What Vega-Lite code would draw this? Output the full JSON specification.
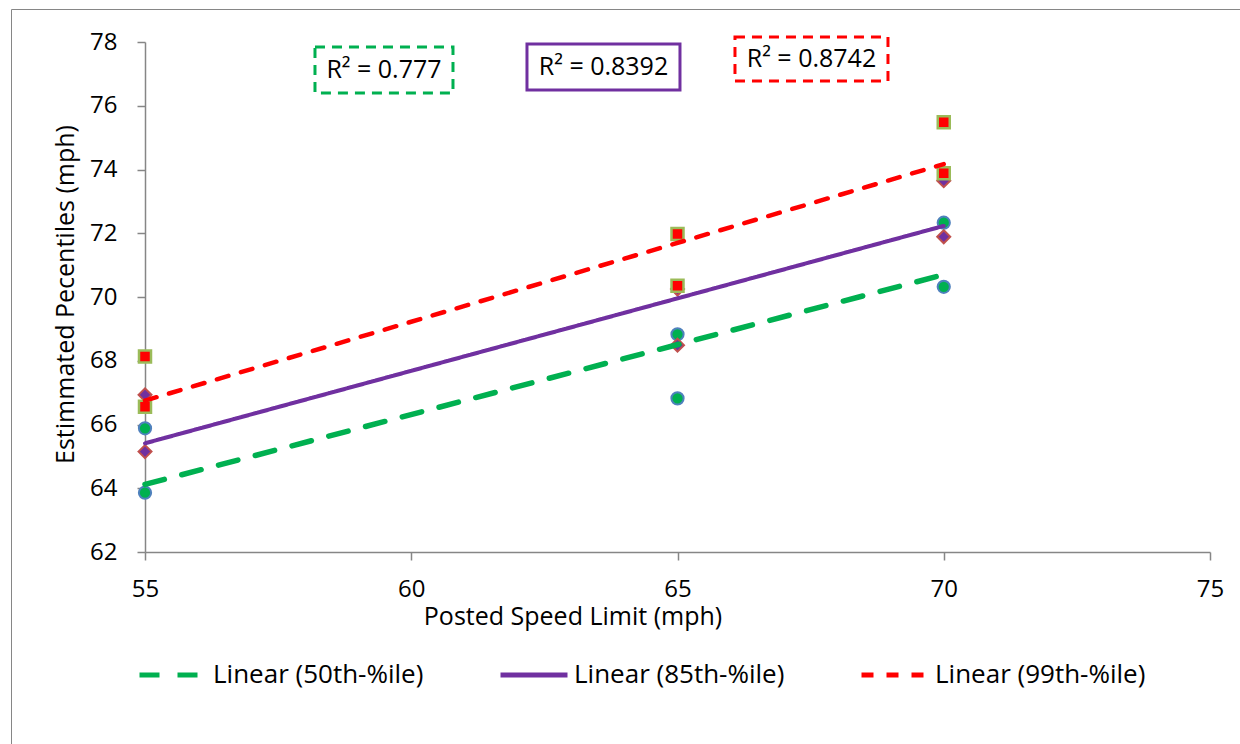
{
  "$schema": "https://vega.github.io/schema/vega-lite/v6.json",
  "width": 1229,
  "height": 735,
  "autosize": {"type": "none"},
  "padding": {"left": 11, "top": 9, "right": 0, "bottom": 0},
  "background": "white",
  "config": {
    "view": {"stroke": "#868686", "strokeWidth": 1},
    "font": "Open Sans"
  },
  "datasets": {
    "points": [
      {"s": "50th", "x": 55, "y": 65.88}, {"s": "50th", "x": 55, "y": 63.86},
      {"s": "50th", "x": 65, "y": 68.83}, {"s": "50th", "x": 65, "y": 66.82},
      {"s": "50th", "x": 70, "y": 72.33}, {"s": "50th", "x": 70, "y": 70.32},
      {"s": "85th", "x": 55, "y": 66.93}, {"s": "85th", "x": 55, "y": 65.15},
      {"s": "85th", "x": 65, "y": 70.25}, {"s": "85th", "x": 65, "y": 68.49},
      {"s": "85th", "x": 70, "y": 73.65}, {"s": "85th", "x": 70, "y": 71.89},
      {"s": "99th", "x": 55, "y": 68.13}, {"s": "99th", "x": 55, "y": 66.56},
      {"s": "99th", "x": 65, "y": 71.98}, {"s": "99th", "x": 65, "y": 70.35},
      {"s": "99th", "x": 70, "y": 75.48}, {"s": "99th", "x": 70, "y": 73.88}
    ],
    "trends": [
      {"series": "Linear (50th-%ile)", "x": 55, "y": 64.12},
      {"series": "Linear (50th-%ile)", "x": 70, "y": 70.70},
      {"series": "Linear (85th-%ile)", "x": 55, "y": 65.41},
      {"series": "Linear (85th-%ile)", "x": 70, "y": 72.23},
      {"series": "Linear (99th-%ile)", "x": 55, "y": 66.75},
      {"series": "Linear (99th-%ile)", "x": 70, "y": 74.17}
    ],
    "r2": [
      {"s": "50th", "label": "R² = 0.777", "x": 59.488, "y": 77.12},
      {"s": "85th", "label": "R² = 0.8392", "x": 63.61, "y": 77.216},
      {"s": "99th", "label": "R² = 0.8742", "x": 67.516, "y": 77.467}
    ]
  },
  "encoding": {
    "x": {
      "field": "x", "type": "quantitative",
      "scale": {"domain": [55, 75], "range": [134, 1199], "nice": false, "zero": false},
      "axis": {
        "title": "Posted Speed Limit (mph)",
        "values": [55, 60, 65, 70, 75],
        "grid": false, "offset": -192,
        "domainColor": "#868686", "domainWidth": 1.5,
        "tickColor": "#868686", "tickWidth": 1.5, "tickSize": 8,
        "labelFontSize": 24, "labelFont": "Open Sans", "labelColor": "#000000",
        "labelPadding": 17, "labelFlush": false, "labelOverlap": false,
        "titleFontSize": 25, "titleFont": "Open Sans", "titleFontWeight": "normal", "titleColor": "#000000",
        "titleX": 561.5, "titleY": 72, "titleBaseline": "alphabetic", "titleAlign": "center"
      }
    },
    "y": {
      "field": "y", "type": "quantitative",
      "scale": {"domain": [62, 78], "range": [543, 33], "nice": false, "zero": false},
      "axis": {
        "title": "Estimmated Pecentiles (mph)",
        "values": [62, 64, 66, 68, 70, 72, 74, 76, 78],
        "grid": false, "offset": -134,
        "domainColor": "#868686", "domainWidth": 1.5,
        "tickColor": "#868686", "tickWidth": 1.5, "tickSize": 8,
        "labelFontSize": 24, "labelFont": "Open Sans", "labelColor": "#000000",
        "labelPadding": 20, "labelFlush": false, "labelOverlap": false,
        "titleFontSize": 25, "titleFont": "Open Sans", "titleFontWeight": "normal", "titleColor": "#000000",
        "titleX": -80, "titleY": 285, "titleAngle": -90, "titleBaseline": "middle", "titleAlign": "center"
      }
    }
  },
  "layer": [
    {
      "data": {"name": "points"},
      "transform": [{"filter": "datum.s === '50th'"}],
      "mark": {"type": "point", "shape": "circle", "filled": true, "fill": "#00B050", "stroke": "#4F81BD", "strokeWidth": 2, "size": 150, "opacity": 1}
    },
    {
      "data": {"name": "points"},
      "transform": [{"filter": "datum.s === '85th'"}],
      "mark": {"type": "point", "shape": "diamond", "filled": true, "fill": "#7030A0", "stroke": "#C0504D", "strokeWidth": 2, "size": 169, "opacity": 1}
    },
    {
      "data": {"name": "points"},
      "transform": [{"filter": "datum.s === '99th'"}],
      "mark": {"type": "point", "shape": "square", "filled": true, "fill": "#FF0000", "stroke": "#9BBB59", "strokeWidth": 2.5, "size": 144, "opacity": 1}
    },
    {
      "data": {"name": "trends"},
      "transform": [{"filter": "datum.series === 'Linear (50th-%ile)'"}],
      "mark": {"type": "line", "strokeWidth": 5.5, "strokeCap": "round"},
      "encoding": {
        "color": {"field": "series", "type": "nominal",
          "scale": {"domain": ["Linear (50th-%ile)", "Linear (85th-%ile)", "Linear (99th-%ile)"], "range": ["#00B050", "#7030A0", "#FF0000"]},
          "legend": {"title": null, "orient": "none", "legendX": 126, "legendY": 630, "direction": "horizontal", "columns": 3,
            "symbolType": "stroke", "symbolSize": 4489, "symbolStrokeWidth": 5,
            "labelFontSize": 26, "labelFont": "Open Sans", "labelColor": "#000000", "labelOffset": 4, "labelLimit": 400,
            "columnPadding": 66, "padding": 0}},
        "strokeDash": {"field": "series", "type": "nominal",
          "scale": {"domain": ["Linear (50th-%ile)", "Linear (85th-%ile)", "Linear (99th-%ile)"], "range": [[20, 18], [1, 0], [12, 13]]},
          "legend": {"title": null, "orient": "none", "legendX": 126, "legendY": 630, "direction": "horizontal", "columns": 3,
            "symbolType": "stroke", "symbolSize": 4489, "symbolStrokeWidth": 5,
            "labelFontSize": 26, "labelFont": "Open Sans", "labelColor": "#000000", "labelOffset": 4, "labelLimit": 400,
            "columnPadding": 66, "padding": 0}}
      }
    },
    {
      "data": {"name": "trends"},
      "transform": [{"filter": "datum.series === 'Linear (85th-%ile)'"}],
      "mark": {"type": "line", "strokeWidth": 4, "strokeCap": "round"},
      "encoding": {
        "color": {"field": "series", "type": "nominal"},
        "strokeDash": {"field": "series", "type": "nominal"}
      }
    },
    {
      "data": {"name": "trends"},
      "transform": [{"filter": "datum.series === 'Linear (99th-%ile)'"}],
      "mark": {"type": "line", "strokeWidth": 4.5, "strokeCap": "round"},
      "encoding": {
        "color": {"field": "series", "type": "nominal"},
        "strokeDash": {"field": "series", "type": "nominal"}
      }
    },
    {
      "data": {"name": "r2"},
      "transform": [{"filter": "datum.s === '50th'"}],
      "mark": {"type": "point", "shape": "M-1,-0.333H1V0.333H-1Z", "size": 19044, "filled": false, "fill": "white", "fillOpacity": 1, "stroke": "#00B050", "strokeWidth": 3, "strokeDash": [10, 7], "opacity": 1}
    },
    {
      "data": {"name": "r2"},
      "transform": [{"filter": "datum.s === '85th'"}],
      "mark": {"type": "point", "shape": "M-1,-0.3007H1V0.3007H-1Z", "size": 23409, "filled": false, "fill": "white", "fillOpacity": 1, "stroke": "#7030A0", "strokeWidth": 3, "opacity": 1}
    },
    {
      "data": {"name": "r2"},
      "transform": [{"filter": "datum.s === '99th'"}],
      "mark": {"type": "point", "shape": "M-1,-0.2876H1V0.2876H-1Z", "size": 23409, "filled": false, "fill": "white", "fillOpacity": 1, "stroke": "#FF0000", "strokeWidth": 3, "strokeDash": [10, 7], "opacity": 1}
    },
    {
      "data": {"name": "r2"},
      "mark": {"type": "text", "font": "Open Sans", "fontSize": 25, "color": "#000000", "align": "center", "baseline": "middle"},
      "encoding": {"text": {"field": "label", "type": "nominal"}}
    }
  ]
}
